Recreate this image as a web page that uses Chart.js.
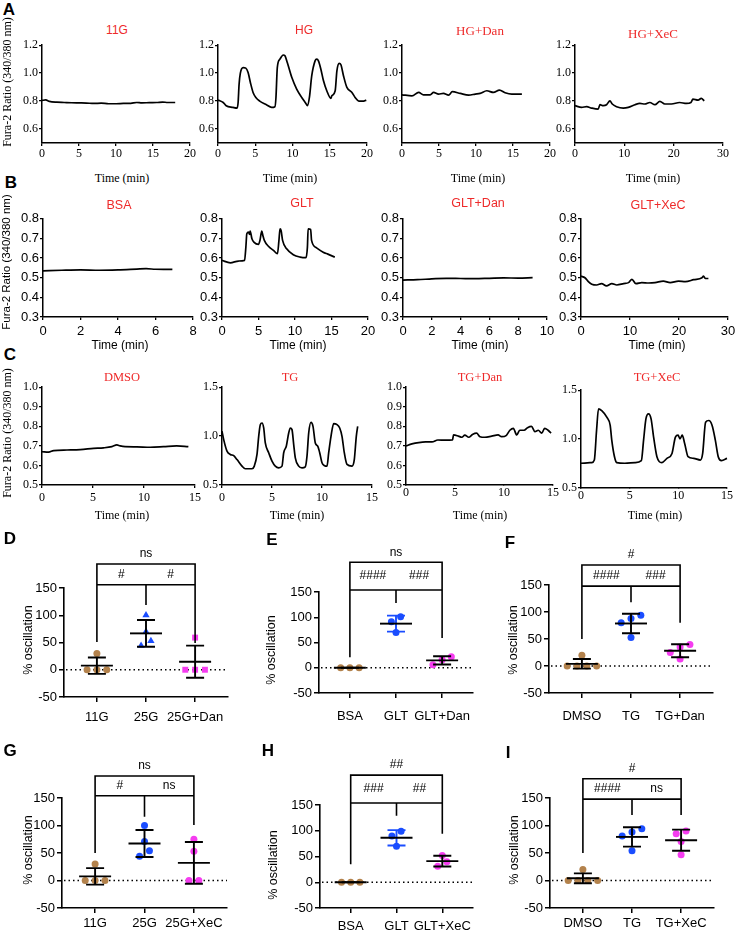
<!DOCTYPE html>
<html>
<head>
<meta charset="utf-8">
<script src="https://cdn.jsdelivr.net/npm/chart.js@4.4.0/dist/chart.umd.min.js"></script>
<style>
body { margin: 0; background: #fff; }
#fig { position: relative; width: 735px; height: 931px; overflow: hidden; background: #fff; }
#fig canvas { position: absolute; }
.t { position: absolute; white-space: nowrap; transform: translate(-50%, -50%); line-height: 1; color: #000; }
.serif { font-family: "Liberation Serif", "Times New Roman", serif; }
.sans { font-family: "Liberation Sans", Arial, sans-serif; }
.red { color: #ee2a2a; }
.rot { transform: translate(-50%, -50%) rotate(-90deg); }
.let { font-family: "Liberation Sans", Arial, sans-serif; font-weight: bold; }
</style>
</head>
<body>
<div id="fig"></div>
<script>
// Fura-2 traces, [time (min), 340/380 ratio]
const tr11G = [[0,0.805],[0.5,0.808],[1,0.798],[2,0.792],[3,0.79],[4,0.788],[5,0.787],[6,0.786],[7,0.783],[8,0.785],[9,0.781],[10,0.781],[11,0.783],[12,0.784],[12.8,0.79],[13.5,0.787],[14.5,0.789],[15.5,0.79],[16.3,0.793],[17,0.79],[18,0.79]];
const trHG = [[0,0.807],[0.7,0.79],[1.1,0.767],[2.0,0.755],[2.56,0.75],[2.7,0.79],[2.83,0.92],[3.0,1.0],[3.37,1.04],[3.73,1.036],[4.04,1.005],[4.36,0.93],[4.72,0.86],[5.08,0.826],[5.6,0.80],[6.5,0.774],[7.2,0.755],[7.64,0.76],[7.78,0.826],[7.96,1.04],[8.31,1.1],[8.76,1.13],[8.99,1.124],[9.3,1.076],[9.9,0.97],[10.56,0.886],[11.24,0.826],[11.8,0.783],[12.0,0.767],[12.27,0.826],[12.58,0.98],[13.03,1.088],[13.26,1.1],[13.48,1.088],[13.8,1.03],[14.16,0.945],[14.6,0.874],[15.15,0.82],[15.28,0.838],[15.73,0.874],[15.96,1.017],[16.27,1.07],[16.5,1.06],[16.85,0.98],[17.3,0.898],[17.98,0.862],[18.4,0.826],[18.9,0.80],[19.55,0.80],[19.9,0.807]];
const trHGDan = [[0,0.845],[1.35,0.838],[2.25,0.862],[2.9,0.845],[3.8,0.845],[4.27,0.862],[4.94,0.85],[5.6,0.855],[6.3,0.843],[6.8,0.867],[7.87,0.855],[9,0.843],[9.9,0.85],[10.56,0.855],[11.46,0.874],[12.36,0.862],[13.17,0.879],[13.93,0.86],[14.83,0.85],[16.2,0.85]];
const trHGXeC = [[0,0.767],[1.35,0.755],[2.36,0.76],[3.37,0.75],[4.7,0.743],[5.06,0.774],[5.73,0.767],[6.4,0.774],[7.08,0.802],[7.55,0.779],[8.43,0.76],[9.78,0.75],[10.8,0.755],[12.14,0.774],[13.15,0.783],[14.16,0.779],[15.17,0.79],[16.2,0.774],[17.2,0.798],[18.2,0.779],[19.55,0.779],[21.2,0.79],[22.6,0.783],[23.5,0.79],[23.9,0.814],[24.95,0.807],[25.6,0.819],[26.2,0.802]];
const trBSA = [[0,0.535],[1,0.538],[2,0.54],[3,0.538],[4,0.54],[5,0.544],[5.5,0.546],[6,0.543],[6.9,0.542]];
const trGLT = [[0,0.588],[1.14,0.576],[2.27,0.585],[3.09,0.588],[3.27,0.656],[3.4,0.724],[3.64,0.732],[3.77,0.72],[3.86,0.737],[4.1,0.698],[4.4,0.68],[5.0,0.67],[5.2,0.69],[5.45,0.737],[5.6,0.715],[5.8,0.69],[6.36,0.66],[7.05,0.639],[7.6,0.622],[7.8,0.69],[7.95,0.749],[8.1,0.74],[8.3,0.69],[8.86,0.647],[9.77,0.617],[10.7,0.605],[11.5,0.602],[11.7,0.656],[11.8,0.749],[12.14,0.746],[12.27,0.69],[12.95,0.652],[13.86,0.63],[14.5,0.62],[15.45,0.605]];
const trGLTDan = [[0,0.488],[1,0.49],[2,0.494],[3,0.497],[4,0.496],[5,0.495],[6,0.497],[7,0.499],[8,0.498],[9,0.5]];
const trGLTXeC = [[0,0.508],[0.8,0.5],[1.5,0.48],[2.2,0.467],[3.2,0.463],[4.2,0.47],[5.2,0.458],[6.3,0.47],[7.3,0.463],[8.7,0.47],[9.7,0.475],[10.4,0.492],[11.2,0.47],[12.4,0.475],[13.8,0.473],[15.1,0.475],[16.8,0.483],[18.2,0.475],[19.9,0.483],[21.3,0.48],[23,0.49],[24.7,0.5],[25,0.508],[25.4,0.496],[26,0.496]];
const trDMSO = [[0,0.67],[0.65,0.668],[1.14,0.676],[2.45,0.679],[3.75,0.681],[5.05,0.687],[6.03,0.69],[6.85,0.696],[7.34,0.705],[7.66,0.70],[8.15,0.696],[9.3,0.695],[10.6,0.693],[11.9,0.696],[13.2,0.70],[14.35,0.696]];
const trTG = [[0,1.05],[0.17,0.964],[0.5,0.846],[0.83,0.812],[1.17,0.80],[1.5,0.76],[2.0,0.693],[2.33,0.666],[3.0,0.666],[3.23,0.693],[3.5,0.812],[3.67,0.998],[3.83,1.117],[4.0,1.134],[4.17,1.083],[4.33,0.93],[4.67,0.83],[5.0,0.744],[5.33,0.693],[5.67,0.676],[6.0,0.693],[6.17,0.83],[6.43,0.897],[6.67,1.032],[6.83,1.083],[7.0,1.066],[7.17,0.913],[7.33,0.778],[7.67,0.693],[8.0,0.676],[8.33,0.686],[8.5,0.795],[8.67,1.032],[8.9,1.14],[9.1,1.1],[9.33,0.93],[9.57,0.897],[9.77,0.83],[10.0,0.727],[10.23,0.7],[10.5,0.693],[10.67,0.83],[10.9,0.998],[11.17,1.127],[11.5,1.117],[11.77,1.083],[12.0,0.998],[12.23,0.83],[12.5,0.71],[13.0,0.693],[13.23,0.76],[13.43,0.998],[13.57,1.1]];
const trTGDan = [[0,0.70],[0.6,0.71],[1.3,0.717],[2,0.72],[2.65,0.72],[3.25,0.73],[4,0.729],[4.75,0.73],[4.85,0.756],[5.35,0.75],[5.7,0.744],[6.0,0.755],[6.4,0.744],[6.78,0.758],[7.2,0.765],[7.55,0.747],[8.05,0.744],[8.75,0.75],[9.4,0.756],[9.75,0.747],[10.25,0.754],[10.6,0.78],[10.95,0.79],[11.3,0.756],[11.6,0.78],[12.05,0.78],[12.4,0.793],[12.8,0.80],[13.15,0.773],[13.5,0.78],[13.85,0.765],[14.15,0.79],[14.5,0.78],[14.8,0.765]];
const trTGXeC = [[0,0.753],[1.1,0.76],[1.37,0.786],[1.6,1.09],[1.8,1.31],[2.13,1.29],[2.65,1.224],[3.0,1.14],[3.16,0.99],[3.44,0.82],[3.67,0.76],[4.5,0.753],[5.56,0.76],[6.2,0.78],[6.43,0.99],[6.67,1.207],[6.94,1.258],[7.2,1.207],[7.46,1.02],[7.8,0.82],[8.3,0.76],[8.83,0.803],[9.35,0.853],[9.7,1.02],[9.97,1.04],[10.17,1.003],[10.4,1.04],[10.65,0.955],[11.0,0.82],[11.58,0.803],[12.27,0.786],[12.5,0.853],[12.8,1.173],[13.13,1.19],[13.47,1.14],[13.8,0.99],[14.1,0.82],[14.43,0.78],[15.0,0.803]];

// axis ticks
const yTicksA = [0.6, 0.8, 1.0, 1.2];
const yTicksB = [0.3, 0.4, 0.5, 0.6, 0.7, 0.8];
const yTicksC1 = [0.5, 0.6, 0.7, 0.8, 0.9, 1.0];
const yTicksC2 = [0.5, 1.0, 1.5];
const xTicks20 = [0, 5, 10, 15, 20];
const xTicks30 = [0, 10, 20, 30];
const xTicks8 = [0, 2, 4, 6, 8];
const xTicks10 = [0, 2, 4, 6, 8, 10];
const xTicks15 = [0, 5, 10, 15];
const oscTicks = [-50, 0, 50, 100, 150];

// % oscillation
const catsD = ['11G', '25G', '25G+Dan'];
const d11G = [0, 0, 0, 30];
const d25G = [100, 70, 53, 44];
const d25GDan = [59, 0, 0, 0];
const catsE = ['BSA', 'GLT', 'GLT+Dan'];
const eBSA = [0, 0, 0];
const eGLT = [101, 91, 70];
const eGLTDan = [22, 16, 6];
const catsF = ['DMSO', 'TG', 'TG+Dan'];
const fDMSO = [20, 0, 0, 0, 0];
const fTG = [94, 88, 80, 53];
const fTGDan = [40, 35, 25, 13];
const catsG = ['11G', '25G', '25G+XeC'];
const g11G = [0, 0, 0, 30];
const g25G = [100, 71, 54, 44];
const g25GXeC = [75, 53, 0, 0];
const catsH = ['BSA', 'GLT', 'GLT+XeC'];
const hBSA = [0, 0, 0];
const hGLT = [99, 90, 70];
const hGLTXeC = [52, 40, 31];
const catsI = ['DMSO', 'TG', 'TG+XeC'];
const iDMSO = [20, 0, 0, 0, 0];
const iTG = [94, 88, 81, 54];
const iTGXeC = [90, 85, 71, 47];

// significance labels: [top, left pair, right pair]
const sigD = ['ns', '#', '#'];
const sigE = ['ns', '####', '###'];
const sigF = ['#', '####', '###'];
const sigG = ['ns', '#', 'ns'];
const sigH = ['##', '###', '##'];
const sigI = ['#', '####', 'ns'];

const SERIF = '"Liberation Serif", "Times New Roman", serif';
const SANS = '"Liberation Sans", Arial, sans-serif';
const BROWN = '#b3824c', BLUE = '#1a4dff', PINK = '#f53cf0';

var fig = document.getElementById('fig');

function addText(txt, x, y, cls, size) {
    var d = document.createElement('div');
    d.className = 't ' + cls;
    d.style.left = x + 'px';
    d.style.top = y + 'px';
    d.style.fontSize = size + 'px';
    d.textContent = txt;
    fig.appendChild(d);
}

// canvas placed so that the chart area lands on box [x0, y0, x1, y1]
function makeCanvas(box, m) {
    var c = document.createElement('canvas');
    var w = box[2] - box[0] + m[0] + m[2];
    var h = box[3] - box[1] + m[1] + m[3];
    c.width = w; c.height = h;
    c.style.left = (box[0] - m[0]) + 'px';
    c.style.top = (box[1] - m[1]) + 'px';
    c.style.width = w + 'px';
    c.style.height = h + 'px';
    fig.appendChild(c);
    return c;
}

function traceChart(pts, box, yMin, yMax, yTicks, xMax, xTicks, font, size, xPad, xTick) {
    var m = [34, 8, 12, 26];
    var c = makeCanvas(box, m);
    var axisGrid = { display: true, drawOnChartArea: false, color: '#000', lineWidth: 1.3, tickLength: 3 };
    return new Chart(c, {
        type: 'line',
        data: {
            datasets: [{
                data: pts.map(p => ({ x: p[0], y: p[1] })),
                borderColor: '#000',
                borderWidth: 1.7,
                pointRadius: 0,
                cubicInterpolationMode: 'monotone',
                clip: false
            }]
        },
        options: {
            responsive: false,
            animation: false,
            devicePixelRatio: 1,
            layout: { padding: { left: 0, top: m[1], right: m[2], bottom: 0 }, autoPadding: false },
            plugins: { legend: { display: false }, tooltip: { enabled: false } },
            scales: {
                x: {
                    type: 'linear', min: 0, max: xMax,
                    afterBuildTicks: s => { s.ticks = xTicks.map(v => ({ value: v })); },
                    afterFit: s => { s.height = m[3]; },
                    grid: Object.assign({}, axisGrid, { tickLength: xTick }),
                    border: { color: '#000', width: 1.5 },
                    ticks: { color: '#000', font: { family: font, size: size }, padding: xPad, maxRotation: 0, autoSkip: false, callback: v => v }
                },
                y: {
                    type: 'linear', min: yMin, max: yMax,
                    afterBuildTicks: s => { s.ticks = yTicks.map(v => ({ value: v })); },
                    afterFit: s => { s.width = m[0]; },
                    grid: axisGrid,
                    border: { color: '#000', width: 1.5 },
                    ticks: { color: '#000', font: { family: font, size: size }, padding: 1, autoSkip: false, callback: v => v.toFixed(1) }
                }
            }
        }
    });
}

// horizontal spread of points with close values (beeswarm-like)
function spread(vals) {
    var idx = vals.map((v, i) => i).sort((a, b) => vals[a] - vals[b]);
    var off = vals.map(() => 0);
    var cl = [idx[0]];
    function flush() { cl.forEach((k, i) => { off[k] = (i - (cl.length - 1) / 2) * 0.2; }); }
    for (var j = 1; j < idx.length; j++) {
        if (vals[idx[j]] - vals[idx[j - 1]] < 10.5) cl.push(idx[j]);
        else { flush(); cl = [idx[j]]; }
    }
    flush();
    return off;
}

function meanSD(v) {
    var n = v.length;
    var mean = v.reduce((a, b) => a + b, 0) / n;
    var sd = n > 1 ? Math.sqrt(v.reduce((a, b) => a + (b - mean) * (b - mean), 0) / (n - 1)) : 0;
    return [mean, sd];
}

function dotPlot(box, cats, groups, sig, br, xPad) {
    var m = [50, 60, 12, 34];
    var c = makeCanvas(box, m);
    var overlay = {
        id: 'overlay',
        beforeDatasetsDraw(ch) {
            var ctx = ch.ctx, a = ch.chartArea, y0 = ch.scales.y.getPixelForValue(0);
            ctx.save();
            ctx.setLineDash([1.5, 3]);
            ctx.lineWidth = 1.4;
            ctx.strokeStyle = '#000';
            ctx.beginPath();
            ctx.moveTo(a.left + 2, y0);
            ctx.lineTo(a.right, y0);
            ctx.stroke();
            ctx.restore();
        },
        afterDatasetsDraw(ch) {
            var ctx = ch.ctx, xs = ch.scales.x, ys = ch.scales.y;
            ctx.save();
            ctx.lineWidth = 1.9;
            // mean +/- SD
            groups.forEach((g, i) => {
                var px = xs.getPixelForValue(i + 1);
                var s = meanSD(g.vals);
                var ym = ys.getPixelForValue(s[0]);
                var yh = ys.getPixelForValue(s[0] + s[1]);
                var yl = ys.getPixelForValue(s[0] - s[1]);
                ctx.strokeStyle = g.err || '#000';
                ctx.beginPath();
                ctx.moveTo(px, yh); ctx.lineTo(px, yl);
                ctx.moveTo(px - 9, yh); ctx.lineTo(px + 9, yh);
                ctx.moveTo(px - 9, yl); ctx.lineTo(px + 9, yl);
                ctx.stroke();
                ctx.strokeStyle = '#000';
                ctx.beginPath();
                ctx.moveTo(px - 16, ym); ctx.lineTo(px + 16, ym);
                ctx.stroke();
            });
            // comparison brackets
            ctx.lineWidth = 1.6;
            var X = [1, 2, 3].map(v => xs.getPixelForValue(v));
            var yT = ys.getPixelForValue(br.top), yL = ys.getPixelForValue(br.low);
            ctx.strokeStyle = '#000';
            ctx.beginPath();
            ctx.moveTo(X[0], yL); ctx.lineTo(X[0], yT); ctx.lineTo(X[2], yT); ctx.lineTo(X[2], yL);
            ctx.moveTo(X[0], yL); ctx.lineTo(X[2], yL);
            for (var i = 0; i < 3; i++) {
                ctx.moveTo(X[i], yL);
                ctx.lineTo(X[i], ys.getPixelForValue(br.ends[i]));
            }
            ctx.stroke();
            ctx.fillStyle = '#000';
            ctx.font = '12px ' + SANS;
            ctx.textAlign = 'center';
            ctx.textBaseline = 'middle';
            ctx.fillText(sig[0], X[1], yT - 10);
            ctx.fillText(sig[1], (X[0] + X[1]) / 2, (yT + yL) / 2);
            ctx.fillText(sig[2], (X[1] + X[2]) / 2, (yT + yL) / 2);
            ctx.restore();
        }
    };
    var axisGrid = { display: true, drawOnChartArea: false, color: '#000', lineWidth: 1.5, tickLength: 5 };
    return new Chart(c, {
        type: 'scatter',
        data: {
            datasets: groups.map((g, i) => {
                var off = spread(g.vals);
                return {
                    data: g.vals.map((v, k) => ({ x: i + 1 + off[k], y: v })),
                    pointStyle: g.shape || 'circle',
                    pointRadius: g.shape ? 4.2 : 3.5,
                    backgroundColor: g.color,
                    borderColor: g.color,
                    borderWidth: 0,
                    clip: false
                };
            })
        },
        options: {
            responsive: false,
            animation: false,
            devicePixelRatio: 1,
            layout: { padding: { left: 0, top: m[1], right: m[2], bottom: 0 }, autoPadding: false },
            plugins: { legend: { display: false }, tooltip: { enabled: false } },
            scales: {
                x: {
                    type: 'linear', min: 0.33, max: 3.67,
                    afterBuildTicks: s => { s.ticks = [1, 2, 3].map(v => ({ value: v })); },
                    afterFit: s => { s.height = m[3]; },
                    grid: axisGrid,
                    border: { color: '#000', width: 1.6 },
                    ticks: { color: '#000', font: { family: SANS, size: 13 }, padding: xPad, maxRotation: 0, autoSkip: false, callback: v => cats[v - 1] }
                },
                y: {
                    type: 'linear', min: -50, max: 150,
                    afterBuildTicks: s => { s.ticks = oscTicks.map(v => ({ value: v })); },
                    afterFit: s => { s.width = m[0]; },
                    grid: axisGrid,
                    border: { color: '#000', width: 1.6 },
                    ticks: { color: '#000', font: { family: SANS, size: 13 }, padding: 2, autoSkip: false }
                }
            }
        },
        plugins: [overlay]
    });
}

// ---- row A ----
traceChart(tr11G, [42, 45, 190, 143], 0.5, 1.2, yTicksA, 20, xTicks20, SERIF, 12, 1, 3);
traceChart(trHG, [218, 45, 367, 143], 0.5, 1.2, yTicksA, 20, xTicks20, SERIF, 12, 1, 3);
traceChart(trHGDan, [402, 45, 550, 143], 0.5, 1.2, yTicksA, 20, xTicks20, SERIF, 12, 1, 3);
traceChart(trHGXeC, [575, 45, 723, 143], 0.5, 1.2, yTicksA, 30, xTicks30, SERIF, 12, 1, 3);
// ---- row B ----
traceChart(trBSA, [43, 218, 193, 317], 0.3, 0.8, yTicksB, 8, xTicks8, SANS, 13, 4, 3);
traceChart(trGLT, [222, 218, 368, 317], 0.3, 0.8, yTicksB, 20, xTicks20, SANS, 13, 4, 3);
traceChart(trGLTDan, [403, 218, 547, 317], 0.3, 0.8, yTicksB, 10, xTicks10, SANS, 13, 4, 3);
traceChart(trGLTXeC, [581, 218, 728, 317], 0.3, 0.8, yTicksB, 30, xTicks30, SANS, 13, 4, 3);
// ---- row C ----
traceChart(trDMSO, [42, 387, 195, 485], 0.5, 1.0, yTicksC1, 15, xTicks15, SERIF, 12, 3, 3);
traceChart(trTG, [222, 387, 372, 485], 0.5, 1.5, yTicksC2, 15, xTicks15, SERIF, 12, 3, 3);
traceChart(trTGDan, [406, 387, 553, 485], 0.5, 1.0, yTicksC1, 15, xTicks15, SERIF, 12, 0, 1);
traceChart(trTGXeC, [581, 390, 727, 488], 0.5, 1.5, yTicksC2, 15, xTicks15, SERIF, 12, 0, 1);

// ---- scatter dot plots ----
dotPlot([64, 588, 228, 697], catsD, [
    { vals: d11G, color: BROWN },
    { vals: d25G, color: BLUE, shape: 'triangle' },
    { vals: d25GDan, color: PINK, shape: 'rect' }
], sigD, { top: 194, low: 156, ends: [51, 119, 49] }, 8);
dotPlot([319, 592, 473, 693], catsE, [
    { vals: eBSA, color: BROWN },
    { vals: eGLT, color: BLUE, err: BLUE },
    { vals: eGLTDan, color: PINK }
], sigE, { top: 209, low: 154, ends: [21, 128, 59] }, 11);
dotPlot([549, 585, 713, 693], catsF, [
    { vals: fDMSO, color: BROWN },
    { vals: fTG, color: BLUE },
    { vals: fTGDan, color: PINK }
], sigF, { top: 187, low: 148, ends: [50, 118, 80] }, 11);
dotPlot([62, 798, 227, 908], catsG, [
    { vals: g11G, color: BROWN },
    { vals: g25G, color: BLUE },
    { vals: g25GXeC, color: PINK }
], sigG, { top: 190, low: 154, ends: [50, 116, 101] }, 3);
dotPlot([320, 805, 473, 908], catsH, [
    { vals: hBSA, color: BROWN },
    { vals: hGLT, color: BLUE, err: BLUE },
    { vals: hGLTXeC, color: PINK }
], sigH, { top: 208, low: 154, ends: [35, 129, 94] }, 6);
dotPlot([550, 798, 714, 908], catsI, [
    { vals: iDMSO, color: BROWN },
    { vals: iTG, color: BLUE },
    { vals: iTGXeC, color: PINK }
], sigI, { top: 185, low: 148, ends: [50, 119, 119] }, 3);

// ---- text: panel letters, titles, axis labels ----
[['A', 9, 9], ['B', 11, 182], ['C', 10, 354], ['D', 10, 538], ['E', 272, 539], ['F', 510, 542],
 ['G', 10, 750], ['H', 268, 750], ['I', 508, 752]].forEach(p => addText(p[0], p[1], p[2], 'let', 17));

addText('11G', 117, 30, 'sans red', 12);
addText('HG', 304, 30, 'sans red', 12);
addText('HG+Dan', 480, 30, 'serif red', 13);
addText('HG+XeC', 653, 33, 'serif red', 13);
addText('BSA', 119, 205, 'sans red', 12.5);
addText('GLT', 302, 203, 'sans red', 12.5);
addText('GLT+Dan', 478, 203, 'sans red', 12.5);
addText('GLT+XeC', 658, 205, 'sans red', 12.5);
addText('DMSO', 122, 377, 'serif red', 12.5);
addText('TG', 290, 377, 'serif red', 12.5);
addText('TG+Dan', 480, 377, 'serif red', 12.5);
addText('TG+XeC', 657, 377, 'serif red', 12.5);

[122, 290, 478, 653].forEach(x => addText('Time (min)', x, 178, 'serif', 12));
[120, 298, 480, 657].forEach(x => addText('Time (min)', x, 345, 'sans', 12));
[122, 297, 480, 655].forEach(x => addText('Time (min)', x, 515, 'serif', 12));

addText('Fura-2 Ratio (340/380 nm)', 7, 82, 'serif rot', 12);
addText('Fura-2 Ratio (340/380 nm)', 7, 262, 'sans rot', 11.5);
addText('Fura-2 Ratio (340/380 nm)', 7, 433, 'serif rot', 12);

[[28, 640], [271, 650], [513, 640], [28, 850], [273, 865], [514, 850]].forEach(p => addText('% oscillation', p[0], p[1], 'sans rot', 12.5));
</script>
</body>
</html>
